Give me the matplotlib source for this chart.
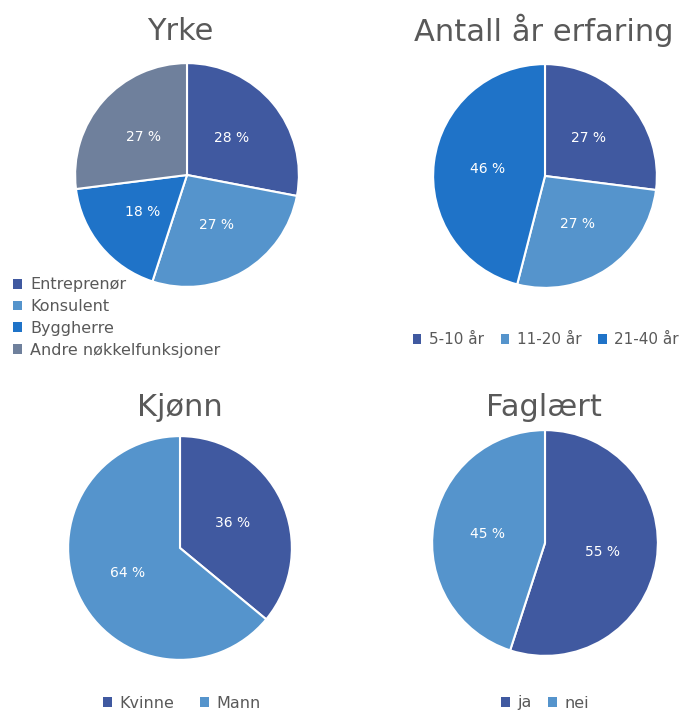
import matplotlib
matplotlib.use("Agg")
import matplotlib.pyplot as plt
from matplotlib.patches import Patch

plt.rcParams['font.family'] = ['DejaVu Sans']

W, H = 684, 711

yrke_labels = ["Entreprenør", "Konsulent", "Byggherre", "Andre nøkkelfunksjoner"]
yrke_values = [28, 27, 18, 27]
yrke_colors = ["#4059A0", "#5594CC", "#1F73C8", "#6F809C"]

erf_labels = ["5-10 år", "11-20 år", "21-40 år"]
erf_values = [27, 27, 46]
erf_colors = ["#4059A0", "#5594CC", "#1F73C8"]

kjonn_labels = ["Kvinne", "Mann"]
kjonn_values = [36, 64]
kjonn_colors = ["#4059A0", "#5594CC"]

fag_labels = ["ja", "nei"]
fag_values = [55, 45]
fag_colors = ["#4059A0", "#5594CC"]

fig = plt.figure(figsize=(W / 100, H / 100), dpi=100)
fig.patch.set_facecolor("white")

TXT = "#595959"


def pie_at(cx, cy, r, values, colors, title, tx, ty):
    ax = fig.add_axes([(cx - r) / W, 1 - (cy + r) / H, 2 * r / W, 2 * r / H])
    ax.pie(values, colors=colors, startangle=90, counterclock=False,
           autopct=lambda p: f"{p:.0f} %", pctdistance=0.52,
           wedgeprops=dict(edgecolor="white", linewidth=1.5),
           textprops=dict(color="white", fontsize=10))
    ax.set_xlim(-1.01, 1.01)
    ax.set_ylim(-1.01, 1.01)
    ax.set_aspect("equal")
    ax.axis("off")
    fig.text(tx / W, 1 - ty / H, title, ha="center", va="center",
             fontsize=22, color=TXT)
    return ax


pie_at(187, 175, 113, yrke_values, yrke_colors, "Yrke", 180, 31)
pie_at(545, 176, 113, erf_values, erf_colors, "Antall år erfaring", 544, 30)
pie_at(180, 548, 113, kjonn_values, kjonn_colors, "Kjønn", 180, 408)
pie_at(545, 543, 114, fag_values, fag_colors, "Faglært", 544, 408)


def handles(labels, colors):
    return [Patch(facecolor=c, edgecolor="none", label=l) for l, c in zip(labels, colors)]


legend_kw = dict(frameon=False, handlelength=0.55, handleheight=0.55,
                 handletextpad=0.5, labelcolor=TXT)

fig.legend(handles=handles(yrke_labels, yrke_colors), loc="upper left",
           bbox_to_anchor=(7 / W, 1 - 271 / H), ncol=1, labelspacing=0.42,
           borderaxespad=0, fontsize=11.5, **legend_kw)
fig.legend(handles=handles(erf_labels, erf_colors), loc="center",
           bbox_to_anchor=(546 / W, 1 - 340 / H), ncol=3, columnspacing=1.1,
           borderaxespad=0, fontsize=11, **legend_kw)
fig.legend(handles=handles(kjonn_labels, kjonn_colors), loc="center",
           bbox_to_anchor=(182 / W, 1 - 703 / H), ncol=2, columnspacing=1.6,
           borderaxespad=0, fontsize=11.5, **legend_kw)
fig.legend(handles=handles(fag_labels, fag_colors), loc="center",
           bbox_to_anchor=(545 / W, 1 - 703 / H), ncol=2, columnspacing=1.0,
           borderaxespad=0, fontsize=11.5, **legend_kw)

fig.savefig("out.png", dpi=100, facecolor="white")
